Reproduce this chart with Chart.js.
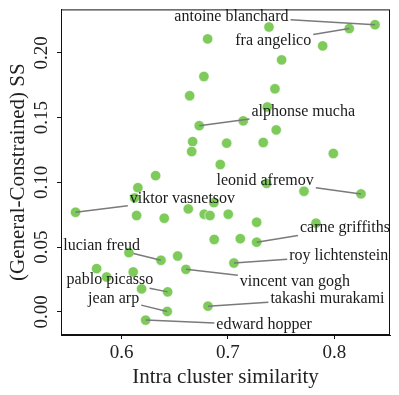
<!DOCTYPE html>
<html>
<head>
<meta charset="utf-8">
<script src="https://cdn.jsdelivr.net/npm/chart.js@4.4.1/dist/chart.umd.min.js"></script>
<style>
html,body{margin:0;padding:0;background:#fff;}
#wrap{width:399px;height:395px;}
</style>
</head>
<body>
<div id="wrap"><canvas id="c" width="399" height="395"></canvas></div>
<script>
// ---- data ----
const simX = [0.8383,0.8141,0.7386,0.6809,0.7891,0.7505,0.6774,0.7442,0.6640,0.7370,
  0.7144,0.6730,0.7454,0.6668,0.6988,0.7332,0.6659,0.7991,0.6928,0.6320,
  0.7364,0.8251,0.7715,0.6153,0.5567,0.6122,0.6868,0.6627,0.6141,0.6401,
  0.6777,0.6831,0.7003,0.7270,0.7828,0.7270,0.6871,0.7116,0.6370,0.6069,
  0.6527,0.7056,0.6605,0.5765,0.5859,0.6109,0.6433,0.6188,0.6429,0.6812,0.6226];
const ssY = [0.2218,0.2188,0.2200,0.2108,0.2054,0.1946,0.1818,0.1723,0.1669,0.1582,
  0.1475,0.1438,0.1405,0.1315,0.1303,0.1308,0.1238,0.1223,0.1138,0.1052,
  0.0992,0.0911,0.0931,0.0959,0.0769,0.0880,0.0844,0.0795,0.0744,0.0723,
  0.0754,0.0744,0.0754,0.0692,0.0685,0.0538,0.0559,0.0565,0.0398,0.0457,
  0.0431,0.0377,0.0328,0.0334,0.0269,0.0308,0.0154,0.0177,0.0003,0.0044,-0.0064];
const artistNames = ["antoine blanchard","fra angelico","","","","","","","","",
  "","alphonse mucha","","","","","","","","",
  "","leonid afremov","","","viktor vasnetsov","","","","","",
  "","","","","","carne griffiths","","","lucian freud","",
  "","roy lichtenstein","vincent van gogh","","","","pablo picasso","","jean arp","takashi murakami","edward hopper"];
// label text centres, in data units
const labelX = {"antoine blanchard":0.7033,"fra angelico":0.7426,"alphonse mucha":0.7708,"leonid afremov":0.7350,
  "viktor vasnetsov":0.6572,"carne griffiths":0.8100,"lucian freud":0.5812,"roy lichtenstein":0.8042,
  "vincent van gogh":0.7630,"pablo picasso":0.5890,"jean arp":0.5925,"takashi murakami":0.7936,"edward hopper":0.7340};
const labelY = {"antoine blanchard":0.2282,"fra angelico":0.2090,"alphonse mucha":0.1544,"leonid afremov":0.1013,
  "viktor vasnetsov":0.0872,"carne griffiths":0.0649,"lucian freud":0.0513,"roy lichtenstein":0.0436,
  "vincent van gogh":0.0231,"pablo picasso":0.0244,"jean arp":0.0103,"takashi murakami":0.0103,"edward hopper":-0.0102};
const xTicks = [0.6,0.7,0.8];
const yTicks = [0.00,0.05,0.10,0.15,0.20];
const xTitle = "Intra cluster similarity";
const yTitle = "(General-Constrained) SS";

const FONT = "'Liberation Serif', 'Times New Roman', serif";
const points = simX.map((x,i)=>({x:x, y:ssY[i]}));

const frame = {
  id:'frame',
  afterDatasetsDraw(chart){
    const ctx = chart.ctx, xs = chart.scales.x, ys = chart.scales.y;
    ctx.save();
    ctx.font = "16px " + FONT;
    artistNames.forEach((nm,i)=>{
      if(!nm) return;
      const px = xs.getPixelForValue(simX[i]), py = ys.getPixelForValue(ssY[i]);
      const cx = xs.getPixelForValue(labelX[nm]), cy = ys.getPixelForValue(labelY[nm]);
      const w = ctx.measureText(nm).width/2 + 2, h = 8;
      const dx = px-cx, dy = py-cy;
      let t = Infinity;
      if (dx !== 0) t = Math.min(t, w/Math.abs(dx));
      if (dy !== 0) t = Math.min(t, h/Math.abs(dy));
      const sx = cx + dx*t, sy = cy + dy*t;
      ctx.strokeStyle = '#7a7a7a';
      ctx.lineWidth = 1.5;
      ctx.beginPath(); ctx.moveTo(sx,sy); ctx.lineTo(px,py); ctx.stroke();
    });
    ctx.fillStyle = '#1a1a1a';
    ctx.textAlign = 'center';
    ctx.textBaseline = 'middle';
    artistNames.forEach((nm)=>{
      if(!nm) return;
      ctx.fillText(nm, xs.getPixelForValue(labelX[nm]), ys.getPixelForValue(labelY[nm]));
    });
    const a = chart.chartArea;
    ctx.strokeStyle = '#111';
    ctx.lineWidth = 1;
    ctx.strokeRect(a.left+0.5, a.top+0.5, a.right-a.left-1, a.bottom-a.top-1);
    ctx.restore();
  }
};

new Chart(document.getElementById('c'), {
  type:'scatter',
  data:{datasets:[{
    data: points,
    backgroundColor:'#7ecb5c',
    borderColor:'#ffffff',
    borderWidth:0.6,
    pointRadius:5.2,
    pointHoverRadius:5.2
  }]},
  options:{
    responsive:false,
    animation:false,
    events:[],
    layout:{padding:{left:0,right:9,top:8,bottom:0}},
    plugins:{legend:{display:false},tooltip:{enabled:false}},
    scales:{
      x:{
        type:'linear', min:0.543, max:0.8524,
        afterBuildTicks(s){ s.ticks = xTicks.map(v=>({value:v})); },
        afterFit(s){ s.height = 60; },
        ticks:{font:{family:FONT,size:19}, color:'#222', padding:3, callback:v=>v.toFixed(1)},
        grid:{display:true, drawOnChartArea:false, drawTicks:true, tickLength:4, color:'#111'},
        border:{display:true, color:'#111'},
        title:{display:true, text:xTitle, font:{family:FONT,size:21}, color:'#222', padding:{top:0,bottom:5}}
      },
      y:{
        type:'linear', min:-0.0179, max:0.2336,
        afterBuildTicks(s){ s.ticks = yTicks.map(v=>({value:v})); },
        afterFit(s){ s.width = 61; },
        ticks:{font:{family:FONT,size:19}, color:'#222', padding:-2, minRotation:90, maxRotation:90, crossAlign:'center', callback:v=>v.toFixed(2)},
        grid:{display:true, drawOnChartArea:false, drawTicks:true, tickLength:4, color:'#111'},
        border:{display:true, color:'#111'},
        title:{display:true, text:yTitle, font:{family:FONT,size:21}, color:'#222', padding:{top:6,bottom:0}}
      }
    }
  },
  plugins:[frame]
});
</script>
</body>
</html>
